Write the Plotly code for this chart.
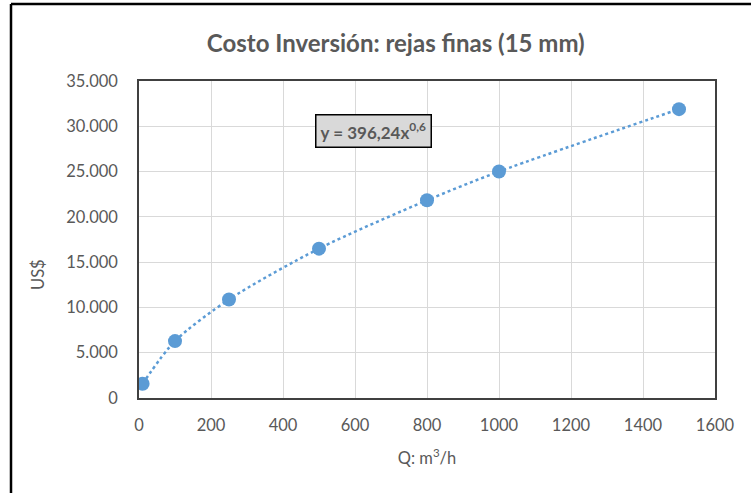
import plotly.graph_objects as go

q = [10, 100, 250, 500, 800, 1000, 1500]
cost = [1580, 6280, 10880, 16490, 21830, 25000, 31890]
x_ticks = [0, 200, 400, 600, 800, 1000, 1200, 1400, 1600]
y_ticks = [0, 5000, 10000, 15000, 20000, 25000, 30000, 35000]
y_labels = ["0", "5.000", "10.000", "15.000", "20.000", "25.000", "30.000", "35.000"]

blue = "#5B9BD5"
grey = "#595959"
font = "Lato"

# plot area in pixels
L, R, T, B = 139, 715, 81, 398
W, H = R - L, B - T

fig = go.Figure()
fig.add_trace(go.Scatter(x=q, y=cost, mode="lines",
                         line=dict(color=blue, width=2.5, dash="dot", shape="spline", smoothing=0.8),
                         hoverinfo="skip", showlegend=False))
fig.add_trace(go.Scatter(x=q, y=cost, mode="markers",
                         marker=dict(color=blue, size=14), showlegend=False))

fig.update_layout(
    width=751, height=493,
    margin=dict(l=L, r=751 - R, t=T, b=493 - B),
    paper_bgcolor="white", plot_bgcolor="white",
    font=dict(family=font, color=grey, size=16),
    title=dict(text="<b>Costo Inversión: rejas finas (15 mm)</b>", x=0.527, xanchor="center",
               y=0.912, yanchor="middle", font=dict(size=24, color=grey, family=font)),
    xaxis=dict(range=[0, 1600], tickvals=x_ticks, ticktext=[str(v) for v in x_ticks],
               showgrid=True, gridcolor="#D9D9D9", gridwidth=1,
               showline=True, linecolor="#404040", linewidth=1.5, mirror=True,
               ticks="outside", ticklen=11, tickcolor="rgba(0,0,0,0)", zeroline=False,
               tickfont=dict(size=16.5, color=grey),
               title=dict(text="Q: m<sup>3</sup>/h", font=dict(size=16.5, color=grey), standoff=19)),
    yaxis=dict(range=[0, 35000], tickvals=y_ticks, ticktext=y_labels,
               showgrid=True, gridcolor="#D9D9D9", gridwidth=1,
               showline=True, linecolor="#404040", linewidth=1.5, mirror=True,
               ticks="outside", ticklen=16, tickcolor="rgba(0,0,0,0)", zeroline=False,
               tickfont=dict(size=16.5, color=grey)),
    annotations=[
        dict(x=650, y=29480, xref="x", yref="y",
             text="<b>y = 396,24x<sup>0,6</sup></b>", showarrow=False,
             font=dict(size=17, color=grey, family=font),
             bgcolor="#D9D9D9", bordercolor="black", borderwidth=1.5, borderpad=4),
        dict(x=(26 - L) / W, y=(B - 275) / H, xref="paper", yref="paper",
             text="US$", textangle=-90, showarrow=False,
             font=dict(size=16.5, color=grey, family=font)),
    ],
)

# outer chart border (left and top edges only are visible)
fig.add_shape(type="line", xref="paper", yref="paper",
              x0=(11 - L) / W, x1=(11 - L) / W, y0=(B - 493) / H, y1=(B - 4) / H,
              line=dict(color="black", width=2.5))
fig.add_shape(type="line", xref="paper", yref="paper",
              x0=(11 - L) / W, x1=(751 - L) / W, y0=(B - 4) / H, y1=(B - 4) / H,
              line=dict(color="black", width=2.5))

fig.write_html("out.html")
